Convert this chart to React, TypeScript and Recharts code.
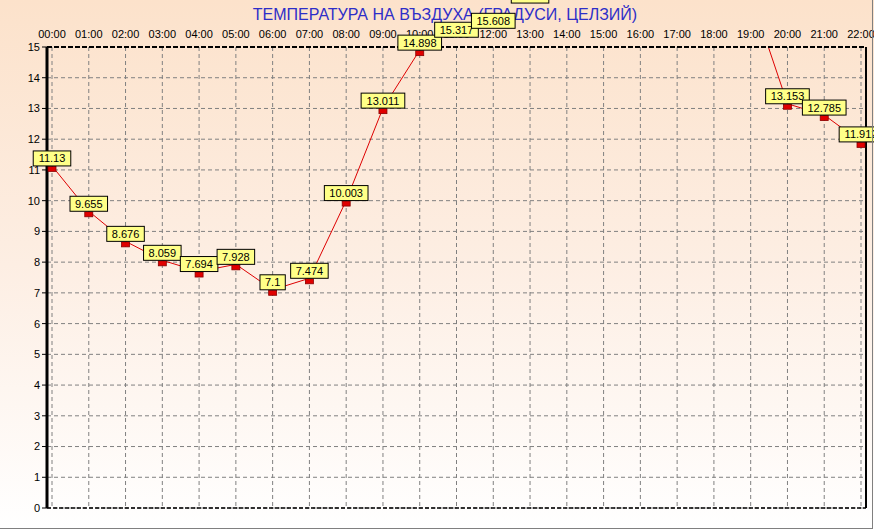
import React from "react";
import {
  CartesianGrid,
  LabelList,
  Line,
  LineChart,
  ReferenceLine,
  XAxis,
  YAxis,
} from "recharts";

const hours = [
  "00:00", "01:00", "02:00", "03:00", "04:00", "05:00", "06:00", "07:00",
  "08:00", "09:00", "10:00", "11:00", "12:00", "13:00", "14:00", "15:00",
  "16:00", "17:00", "18:00", "19:00", "20:00", "21:00", "22:00",
];

// 13:00 .. 19:00 are above the top of the plot in the picture, estimated
const temps = [
  11.13, 9.655, 8.676, 8.059, 7.694, 7.928, 7.1, 7.474, 10.003, 13.011,
  14.898, 15.317, 15.608, 16.43, 17.05, 17.42, 17.61, 17.48, 17.12, 16.71,
  13.153, 12.785, 11.912,
];

const yTicks = [0, 1, 2, 3, 4, 5, 6, 7, 8, 9, 10, 11, 12, 13, 14, 15];

const title = "ТЕМПЕРАТУРА НА ВЪЗДУХА  (ГРАДУСИ, ЦЕЛЗИЙ)";

const data = hours.map((h, i) => ({ hour: h, temp: temps[i] }));

const FONT = "'Liberation Sans', Arial, sans-serif";

function textWidth(s: string): number {
  let w = 0;
  for (const ch of s) w += ch === "." ? 3.06 : 6.12;
  return w;
}

function Marker(props: any) {
  const { cx, cy, index } = props;
  if (cx == null || cy == null) return <g key={index} />;
  return (
    <rect
      key={index}
      x={cx - 4}
      y={cy + 0.5}
      width={8}
      height={5}
      fill="#e00000"
      stroke="#8a0000"
      strokeWidth={0.8}
    />
  );
}

function ValueLabel(props: any) {
  const x = props.x ?? props.viewBox?.x;
  const y = props.y ?? props.viewBox?.y;
  const v = props.value;
  if (x == null || y == null || v == null) return null;
  const txt = String(v);
  const w = textWidth(txt) + 10;
  return (
    <g>
      <rect x={x - w / 2} y={y - 15} width={w} height={15} fill="#ffff88" stroke="#000" strokeWidth={1} />
      <text x={x} y={y - 3.5} textAnchor="middle" fontSize={11} fontFamily={FONT} fill="#000">
        {txt}
      </text>
    </g>
  );
}

function HourTick(props: any) {
  const { x, y, payload } = props;
  return (
    <text x={x} y={y} textAnchor="middle" fontSize={11} fontFamily={FONT} fill="#000">
      {payload.value}
    </text>
  );
}

export default function App() {
  return (
    <div
      style={{
        position: "absolute",
        left: 0,
        top: 0,
        width: 874,
        height: 529,
        background: "linear-gradient(to bottom, #fce2cb 0%, #fdeee3 50%, #ffffff 100%)",
        fontFamily: FONT,
      }}
    >
      <svg width={874} height={529} style={{ position: "absolute", left: 0, top: 0 }}>
        <text x={445} y={20} textAnchor="middle" fontSize={16} fontFamily={FONT} fill="#2e2ec8">
          {title}
        </text>
      </svg>
      <div style={{ position: "absolute", left: 0, top: 0 }}>
        <LineChart width={874} height={529} data={data} margin={{ top: 27, right: 0, bottom: 21, left: 0 }}>
          <CartesianGrid yAxisId="left" stroke="#808080" strokeDasharray="4 3" />
          <XAxis
            dataKey="hour"
            orientation="top"
            scale="point"
            height={20}
            padding={{ left: 5, right: 5 }}
            interval={0}
            tickSize={0}
            tickMargin={9}
            tickLine={false}
            tick={<HourTick />}
            axisLine={{ stroke: "#000", strokeWidth: 2, strokeDasharray: "5 2" }}
          />
          <YAxis
            yAxisId="left"
            width={47}
            domain={[0, 15]}
            ticks={yTicks}
            interval={0}
            allowDataOverflow
            tickSize={5}
            tickMargin={2}
            tick={{ fontSize: 11, fill: "#000", fontFamily: FONT }}
            tickLine={{ stroke: "#000" }}
            axisLine={{ stroke: "#000", strokeWidth: 3 }}
          />
          <YAxis
            yAxisId="right"
            orientation="right"
            width={8}
            domain={[0, 15]}
            tick={false}
            tickLine={false}
            axisLine={{ stroke: "#000", strokeWidth: 2 }}
          />
          <ReferenceLine yAxisId="left" y={0} stroke="#000" strokeWidth={1.5} strokeDasharray="4 2" />
          <Line
            yAxisId="left"
            type="linear"
            dataKey="temp"
            stroke="#dd0000"
            strokeWidth={1}
            dot={Marker}
            activeDot={false}
            isAnimationActive={false}
          >
            <LabelList dataKey="temp" content={ValueLabel} />
          </Line>
        </LineChart>
      </div>
      <div
        style={{
          position: "absolute",
          left: 0,
          top: 0,
          width: 872,
          height: 528,
          borderRight: "1px solid #808080",
          borderBottom: "1px solid #808080",
          pointerEvents: "none",
        }}
      />
    </div>
  );
}
